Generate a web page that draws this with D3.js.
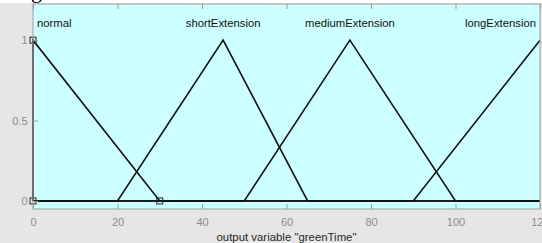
<!DOCTYPE html>
<html>
<head>
<meta charset="utf-8">
<script src="https://cdn.jsdelivr.net/npm/d3@7"></script>
<style>
  html, body { margin: 0; padding: 0; background: #e6e6e6; }
  svg { display: block; }
  .tick text { font-family: "Liberation Sans", Arial, sans-serif; font-size: 11px; fill: #8c8c8c; }
  .tick line { stroke: #9a9a9a; }
  .domain { stroke: none; }
</style>
</head>
<body>
<script>
// membership functions of output variable "greenTime" (trimf params)
var mfNames = ['normal', 'shortExtension', 'mediumExtension', 'longExtension'];
var mfParams = [[0, 0, 30], [20, 45, 65], [50, 75, 100], [90, 120, 150]];
var xRange = [0, 120];
var xTicks = [0, 20, 40, 60, 80, 100, 120];
var yTicks = [0, 0.5, 1];
var selectedMf = 0;

var width = 542, height = 243;
var box = {left: 33, right: 540, top: 4, bottom: 209};

var svg = d3.select('body').append('svg').attr('width', width).attr('height', height);

// strip of the page above the figure, with the tail of a letter
svg.append('rect').attr('x', 0).attr('y', 0).attr('width', width).attr('height', 3).attr('fill', '#fff');
svg.append('text').attr('x', 31).attr('y', -2)
    .style('font-family', '"Liberation Serif", serif').style('font-size', '22px')
    .attr('fill', '#000').text('g');

var x = d3.scaleLinear().domain(xRange).range([box.left, box.right]);
var y = d3.scaleLinear().domain([-0.05, 1.225]).range([box.bottom, box.top]);

svg.append('rect')
    .attr('x', box.left).attr('y', box.top)
    .attr('width', box.right - box.left).attr('height', box.bottom - box.top)
    .attr('fill', '#ccffff');

// clip the triangle vertices to the variable range
function mfPoints(p) {
    var v = [[xRange[0] - 1e3, 0], [p[0], 0], [p[1], 1], [p[2], 0], [xRange[1] + 1e3, 0]];
    var out = [];
    for (var i = 0; i < v.length - 1; i++) {
        var a = v[i], b = v[i + 1];
        var x0 = Math.max(a[0], xRange[0]), x1 = Math.min(b[0], xRange[1]);
        if (x1 < x0) { continue; }
        var f = function (t) {
            if (b[0] === a[0]) { return a[1]; }
            return a[1] + (b[1] - a[1]) * (t - a[0]) / (b[0] - a[0]);
        };
        if (b[0] === a[0]) {
            out.push([a[0], a[1]], [b[0], b[1]]);
        } else {
            out.push([x0, f(x0)], [x1, f(x1)]);
        }
    }
    return out;
}

var line = d3.line().x(function (d) { return x(d[0]); }).y(function (d) { return y(d[1]); });

var g = svg.append('g');
g.selectAll('path.mf').data(mfParams).enter().append('path')
    .attr('class', 'mf')
    .attr('d', function (d) { return line(mfPoints(d)); })
    .attr('fill', 'none').attr('stroke', '#111').attr('stroke-width', 1.6);

// vertex markers of the selected function
var sp = mfParams[selectedMf];
var marks = [[sp[0], 0], [sp[1], 1], [sp[2], 0]].filter(function (d) {
    return d[0] >= xRange[0] && d[0] <= xRange[1];
});
g.selectAll('rect.mark').data(marks).enter().append('rect')
    .attr('class', 'mark')
    .attr('x', function (d) { return x(d[0]) - 3; })
    .attr('y', function (d) { return y(d[1]) - 3; })
    .attr('width', 6).attr('height', 6)
    .attr('fill', 'none').attr('stroke', '#222').attr('stroke-width', 1);

// labels above the peaks, kept inside the box
svg.selectAll('text.mfname').data(mfNames).enter().append('text')
    .attr('class', 'mfname')
    .attr('x', function (d, i) {
        var px = x(mfParams[i][1]);
        if (i === 0) { return box.left + 4; }
        if (i === mfNames.length - 1) { return box.right - 4; }
        return px;
    })
    .attr('y', 26.5)
    .attr('text-anchor', function (d, i) {
        if (i === 0) { return 'start'; }
        if (i === mfNames.length - 1) { return 'end'; }
        return 'middle';
    })
    .style('font-family', '"Liberation Sans", Arial, sans-serif').style('font-size', '11.3px')
    .attr('fill', '#111')
    .text(function (d) { return d; });

// axes, ticks pointing in
svg.append('g').attr('transform', 'translate(0,' + box.bottom + ')')
    .call(d3.axisBottom(x).tickValues(xTicks).tickSizeInner(-5).tickSizeOuter(0).tickPadding(9));
svg.append('g').attr('transform', 'translate(0,' + box.top + ')')
    .call(d3.axisTop(x).tickValues(xTicks).tickSizeInner(-5).tickSizeOuter(0).tickFormat(''));
svg.append('g').attr('transform', 'translate(' + box.left + ',0)')
    .call(d3.axisLeft(y).tickValues(yTicks).tickSizeInner(-5).tickSizeOuter(0).tickPadding(5.5)
        .tickFormat(function (d) { return d === 0.5 ? '0.5' : d3.format('d')(d); }));

svg.append('rect')
    .attr('x', box.left).attr('y', box.top)
    .attr('width', box.right - box.left).attr('height', box.bottom - box.top)
    .attr('fill', 'none').attr('stroke', '#a0a0a0').attr('stroke-width', 1);

svg.append('text')
    .attr('x', (box.left + box.right) / 2).attr('y', 240.5)
    .attr('text-anchor', 'middle')
    .style('font-family', '"Liberation Sans", Arial, sans-serif').style('font-size', '11.4px')
    .attr('fill', '#262626')
    .text('output variable "greenTime"');
</script>
</body>
</html>
